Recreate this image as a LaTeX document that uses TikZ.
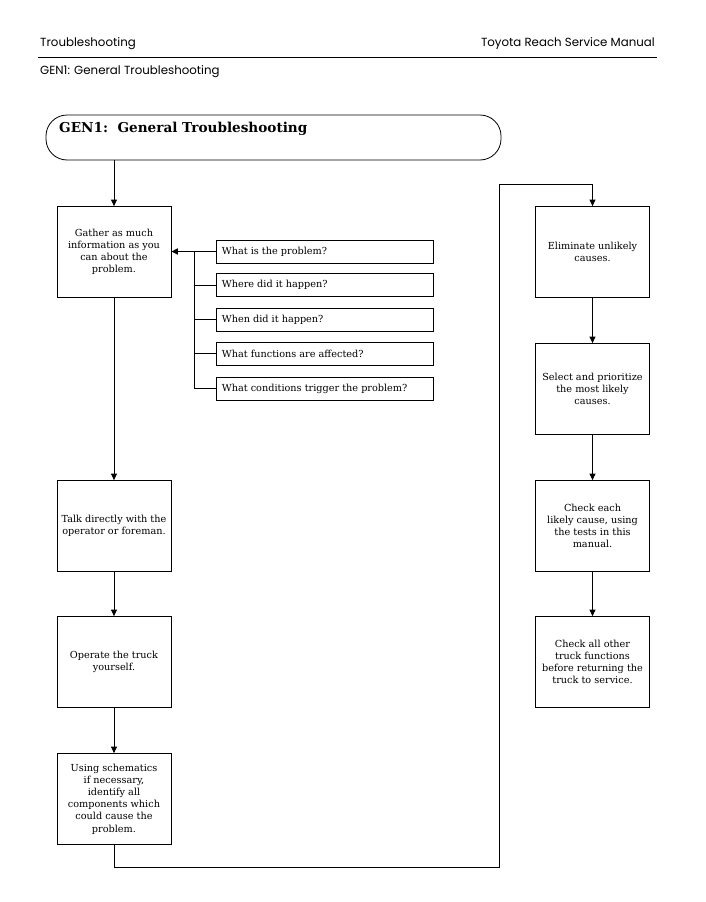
\documentclass[tikz,border=0pt]{standalone}
\usepackage{fontspec}
\setmainfont{DejaVu Serif}
\newfontfamily\hdrfont{Poppins}
\usetikzlibrary{arrows.meta}
\begin{document}
\begin{tikzpicture}[x=1pt,y=-1pt,
  every node/.style={font=\fontsize{9.7}{12.2}\selectfont},
  stepbox/.style={draw,line width=0.8pt,minimum width=114pt,minimum height=91pt,inner sep=2pt,align=center},
  qbox/.style={draw,line width=0.8pt,minimum width=217pt,minimum height=23pt,inner sep=0pt},
  hdr/.style={font=\hdrfont\fontsize{11.8}{13}\selectfont,inner sep=0pt},
  link/.style={line width=0.8pt},
  arr/.style={line width=0.8pt,-{Triangle[length=6.5pt,width=6pt]}}]
\useasboundingbox (0,0) rectangle (705,902);
% header
\node[hdr,anchor=west] (h1) at (40,43.5) {Troubleshooting};
\node[hdr,anchor=east] (h2) at (655,43.5) {Toyota Reach Service Manual};
\draw[line width=1.8pt] (38,57.5) -- (657,57.5);
\node[hdr,anchor=west] (h3) at (40,71.5) {GEN1: General Troubleshooting};
% title
\node[draw,line width=0.8pt,rounded corners=21pt,minimum width=455pt,minimum height=45pt] (title) at (273.5,137.5) {};
\node[anchor=west,inner sep=0pt,font=\bfseries\fontsize{13.6}{15}\selectfont] (tt) at (59,129) {GEN1:\ \ General Troubleshooting};
% left column
\node[stepbox] (gather) at (114,252) {Gather as much\\information as you\\can about the\\problem.};
\node[stepbox] (talk) at (114,526) {Talk directly with the\\operator or foreman.};
\node[stepbox] (operate) at (114,662) {Operate the truck\\yourself.};
\node[stepbox] (using) at (114,799) {Using schematics\\if necessary,\\identify all\\components which\\could cause the\\problem.};
% questions
\node[qbox] (q1) at (324.5,251.5) {};
\node[anchor=west,inner sep=0pt] at (q1.west) [xshift=6pt] {What is the problem?};
\node[qbox] (q2) at (324.5,285) {};
\node[anchor=west,inner sep=0pt] at (q2.west) [xshift=6pt] {Where did it happen?};
\node[qbox] (q3) at (324.5,319.5) {};
\node[anchor=west,inner sep=0pt] at (q3.west) [xshift=6pt] {When did it happen?};
\node[qbox] (q4) at (324.5,353.5) {};
\node[anchor=west,inner sep=0pt] at (q4.west) [xshift=6pt] {What functions are affected?};
\node[qbox] (q5) at (324.5,388.5) {};
\node[anchor=west,inner sep=0pt] at (q5.west) [xshift=6pt] {What conditions trigger the problem?};
% right column
\node[stepbox] (elim) at (592.5,252) {Eliminate unlikely\\causes.};
\node[stepbox] (select) at (592.5,389) {Select and prioritize\\the most likely\\causes.};
\node[stepbox] (check) at (592.5,526) {Check each\\likely cause, using\\the tests in this\\manual.};
\node[stepbox] (checkall) at (592.5,662) {Check all other\\truck functions\\before returning the\\truck to service.};
% connectors
\coordinate (bus) at (194,251.5);
\draw[arr] (title.south -| gather.north) -- (gather.north);
\draw[link] (q1.west) -- (bus);
\draw[arr,line width=1.5pt] (bus) -- (gather.east |- bus);
\draw[link] (bus) |- (q2.west);
\draw[link] (bus) |- (q3.west);
\draw[link] (bus) |- (q4.west);
\draw[link] (bus) |- (q5.west);
\draw[arr] (gather) -- (talk);
\draw[arr] (talk) -- (operate);
\draw[arr] (operate) -- (using);
\coordinate (c1) at (114,867);
\coordinate (c2) at (499,867);
\coordinate (c3) at (499,184);
\coordinate (c4) at (592.5,184);
\draw[arr] (using.south) -- (c1) -- (c2) -- (c3) -- (c4) -- (elim.north);
\draw[arr] (elim) -- (select);
\draw[arr] (select) -- (check);
\draw[arr] (check) -- (checkall);
\end{tikzpicture}
\end{document}
